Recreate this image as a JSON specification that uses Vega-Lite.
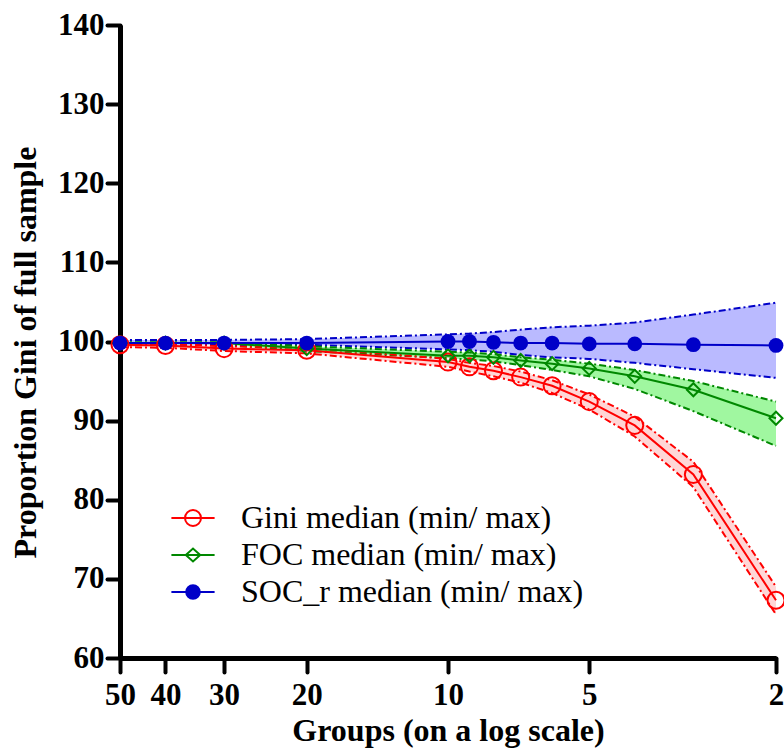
{
  "$schema": "https://vega.github.io/schema/vega-lite/v6.json",
  "width": 656,
  "height": 633,
  "autosize": "none",
  "padding": {"left": 120, "top": 25, "right": 8, "bottom": 93},
  "background": "white",
  "config": {
    "view": {"stroke": null},
    "axis": {
      "labelFont": "Liberation Serif",
      "labelFontWeight": "bold",
      "labelFontSize": 31,
      "labelColor": "black",
      "titleFont": "Liberation Serif",
      "titleFontWeight": "bold",
      "titleFontSize": 32,
      "titleColor": "black",
      "domainColor": "black",
      "domainWidth": 5,
      "tickColor": "black",
      "tickWidth": 4,
      "tickCap": "round",
      "grid": false
    }
  },
  "data": {
    "values": [
      {"g": 50, "s": "Gini", "med": 99.6, "lo": 99.3, "hi": 99.8},
      {"g": 40, "s": "Gini", "med": 99.5, "lo": 99.2, "hi": 99.7},
      {"g": 30, "s": "Gini", "med": 99.1, "lo": 98.8, "hi": 99.4},
      {"g": 20, "s": "Gini", "med": 98.9, "lo": 98.5, "hi": 99.2},
      {"g": 10, "s": "Gini", "med": 97.4, "lo": 96.8, "hi": 97.8},
      {"g": 9, "s": "Gini", "med": 96.8, "lo": 96.2, "hi": 97.3},
      {"g": 8, "s": "Gini", "med": 96.3, "lo": 95.6, "hi": 96.9},
      {"g": 7, "s": "Gini", "med": 95.5, "lo": 94.8, "hi": 96.2},
      {"g": 6, "s": "Gini", "med": 94.4, "lo": 93.5, "hi": 95.1},
      {"g": 5, "s": "Gini", "med": 92.4, "lo": 91.4, "hi": 93.3},
      {"g": 4, "s": "Gini", "med": 89.4, "lo": 88.0, "hi": 90.5},
      {"g": 3, "s": "Gini", "med": 83.2, "lo": 81.6, "hi": 84.8},
      {"g": 2, "s": "Gini", "med": 67.3, "lo": 65.5, "hi": 69.0},
      {"g": 50, "s": "FOC", "med": 99.8, "lo": 99.6, "hi": 99.9},
      {"g": 40, "s": "FOC", "med": 99.8, "lo": 99.6, "hi": 99.9},
      {"g": 30, "s": "FOC", "med": 99.8, "lo": 99.6, "hi": 99.9},
      {"g": 20, "s": "FOC", "med": 99.1, "lo": 98.8, "hi": 99.4},
      {"g": 10, "s": "FOC", "med": 98.2, "lo": 97.9, "hi": 98.7},
      {"g": 9, "s": "FOC", "med": 98.2, "lo": 97.7, "hi": 98.6},
      {"g": 8, "s": "FOC", "med": 98.0, "lo": 97.5, "hi": 98.4},
      {"g": 7, "s": "FOC", "med": 97.6, "lo": 97.0, "hi": 98.0},
      {"g": 6, "s": "FOC", "med": 97.2, "lo": 96.4, "hi": 97.7},
      {"g": 5, "s": "FOC", "med": 96.6, "lo": 95.6, "hi": 97.2},
      {"g": 4, "s": "FOC", "med": 95.6, "lo": 94.0, "hi": 96.4},
      {"g": 3, "s": "FOC", "med": 93.9, "lo": 91.2, "hi": 95.0},
      {"g": 2, "s": "FOC", "med": 90.3, "lo": 86.8, "hi": 92.4},
      {"g": 50, "s": "SOC_r", "med": 99.8, "lo": 99.6, "hi": 100.2},
      {"g": 40, "s": "SOC_r", "med": 99.8, "lo": 99.6, "hi": 100.2},
      {"g": 30, "s": "SOC_r", "med": 99.8, "lo": 99.6, "hi": 100.2},
      {"g": 20, "s": "SOC_r", "med": 99.8, "lo": 99.6, "hi": 100.3},
      {"g": 10, "s": "SOC_r", "med": 100.0, "lo": 99.0, "hi": 100.9},
      {"g": 9, "s": "SOC_r", "med": 100.0, "lo": 98.9, "hi": 101.0},
      {"g": 8, "s": "SOC_r", "med": 99.9, "lo": 98.7, "hi": 101.2},
      {"g": 7, "s": "SOC_r", "med": 99.8, "lo": 98.3, "hi": 101.5},
      {"g": 6, "s": "SOC_r", "med": 99.8, "lo": 98.0, "hi": 101.8},
      {"g": 5, "s": "SOC_r", "med": 99.7, "lo": 97.8, "hi": 102.0},
      {"g": 4, "s": "SOC_r", "med": 99.7, "lo": 97.3, "hi": 102.4},
      {"g": 3, "s": "SOC_r", "med": 99.6, "lo": 96.5, "hi": 103.4},
      {"g": 2, "s": "SOC_r", "med": 99.5, "lo": 95.4, "hi": 104.9}
    ]
  },
  "encoding": {
    "x": {
      "field": "g",
      "type": "quantitative",
      "scale": {"type": "log", "domain": [2, 50], "reverse": true, "nice": false},
      "axis": {
        "title": "Groups (on a log scale)",
        "values": [50, 40, 30, 20, 10, 5, 2],
        "format": "d",
        "labelFlush": false,
        "tickSize": 14,
        "labelPadding": 8,
        "titleY": 82,
        "titleBaseline": "alphabetic"
      }
    }
  },
  "layer": [
    {
      "transform": [{"filter": "datum.s == 'Gini'"}],
      "mark": {"type": "area", "color": "#ffd6d6", "opacity": 1},
      "encoding": {
        "y": {"field": "lo", "type": "quantitative", "scale": {"domain": [60, 140], "nice": false, "zero": false},
          "axis": {
            "title": "Proportion Gini of full sample",
            "values": [60, 70, 80, 90, 100, 110, 120, 130, 140],
            "tickSize": 13,
            "labelPadding": 3,
            "titleX": -78,
            "titleY": 327,
            "titleAngle": -90,
            "titleAlign": "center",
            "titleBaseline": "bottom"
          }},
        "y2": {"field": "hi"}
      }
    },
    {
      "transform": [{"filter": "datum.s == 'FOC'"}],
      "mark": {"type": "area", "color": "#a0f7a0", "opacity": 1},
      "encoding": {
        "y": {"field": "lo", "type": "quantitative"},
        "y2": {"field": "hi"}
      }
    },
    {
      "transform": [{"filter": "datum.s == 'SOC_r'"}],
      "mark": {"type": "area", "color": "#babaff", "opacity": 1},
      "encoding": {
        "y": {"field": "lo", "type": "quantitative"},
        "y2": {"field": "hi"}
      }
    },
    {
      "mark": {"type": "line", "strokeWidth": 2, "strokeDash": [7, 3, 2, 3]},
      "encoding": {
        "y": {"field": "lo", "type": "quantitative"},
        "stroke": {"field": "s", "type": "nominal",
          "scale": {"domain": ["Gini", "FOC", "SOC_r"], "range": ["#ff0000", "#008800", "#0000c8"]}}
      }
    },
    {
      "mark": {"type": "line", "strokeWidth": 2, "strokeDash": [7, 3, 2, 3]},
      "encoding": {
        "y": {"field": "hi", "type": "quantitative"},
        "stroke": {"field": "s", "type": "nominal"}
      }
    },
    {
      "mark": {"type": "line", "strokeWidth": 2},
      "encoding": {
        "y": {"field": "med", "type": "quantitative"},
        "stroke": {"field": "s", "type": "nominal"}
      }
    },
    {
      "mark": {"type": "point", "opacity": 0, "strokeWidth": 2},
      "encoding": {
        "y": {"field": "med", "type": "quantitative"},
        "stroke": {"field": "s", "type": "nominal"},
        "fill": {"field": "s", "type": "nominal",
          "scale": {"domain": ["Gini", "FOC", "SOC_r"], "range": ["transparent", "transparent", "#0000c8"]}},
        "shape": {"field": "s", "type": "nominal",
          "scale": {"domain": ["Gini", "FOC", "SOC_r"], "range": [
            "M-2.7,0H2.7M1,0A1,1,0,1,1,-1,0A1,1,0,1,1,1,0",
            "M-2.7,0H2.7M-0.9,0L0,-0.8L0.9,0L0,0.8Z",
            "M-2.7,0H2.7M0.85,0A0.85,0.85,0,1,1,-0.85,0A0.85,0.85,0,1,1,0.85,0M0.6,0A0.6,0.6,0,1,1,-0.6,0A0.6,0.6,0,1,1,0.6,0M0.36,0A0.36,0.36,0,1,1,-0.36,0A0.36,0.36,0,1,1,0.36,0M0.12,0A0.12,0.12,0,1,1,-0.12,0A0.12,0.12,0,1,1,0.12,0"
          ]},
          "legend": {
            "orient": "none",
            "legendX": 57,
            "legendY": 477,
            "title": null,
            "padding": 0,
            "symbolSize": 256,
            "symbolStrokeWidth": 2,
            "symbolOpacity": 1,
            "labelOffset": 32,
            "rowPadding": 5,
            "labelFont": "Liberation Serif",
            "labelFontSize": 32,
            "labelColor": "black",
            "labelLimit": 1000,
            "labelExpr": "datum.value == 'Gini' ? 'Gini median (min/ max)' : datum.value == 'FOC' ? 'FOC median (min/ max)' : 'SOC_r median (min/ max)'"
          }
        }
      }
    },
    {
      "transform": [{"filter": "datum.s == 'Gini'"}],
      "mark": {"type": "point", "shape": "circle", "size": 290, "filled": false, "color": "#ff0000", "strokeWidth": 2, "opacity": 1},
      "encoding": {"y": {"field": "med", "type": "quantitative"}}
    },
    {
      "transform": [{"filter": "datum.s == 'FOC'"}],
      "mark": {"type": "point", "shape": "diamond", "size": 170, "filled": false, "color": "#008800", "strokeWidth": 2, "opacity": 1},
      "encoding": {"y": {"field": "med", "type": "quantitative"}}
    },
    {
      "transform": [{"filter": "datum.s == 'SOC_r'"}],
      "mark": {"type": "point", "shape": "circle", "size": 220, "filled": true, "color": "#0000c8", "opacity": 1},
      "encoding": {"y": {"field": "med", "type": "quantitative"}}
    }
  ]
}
